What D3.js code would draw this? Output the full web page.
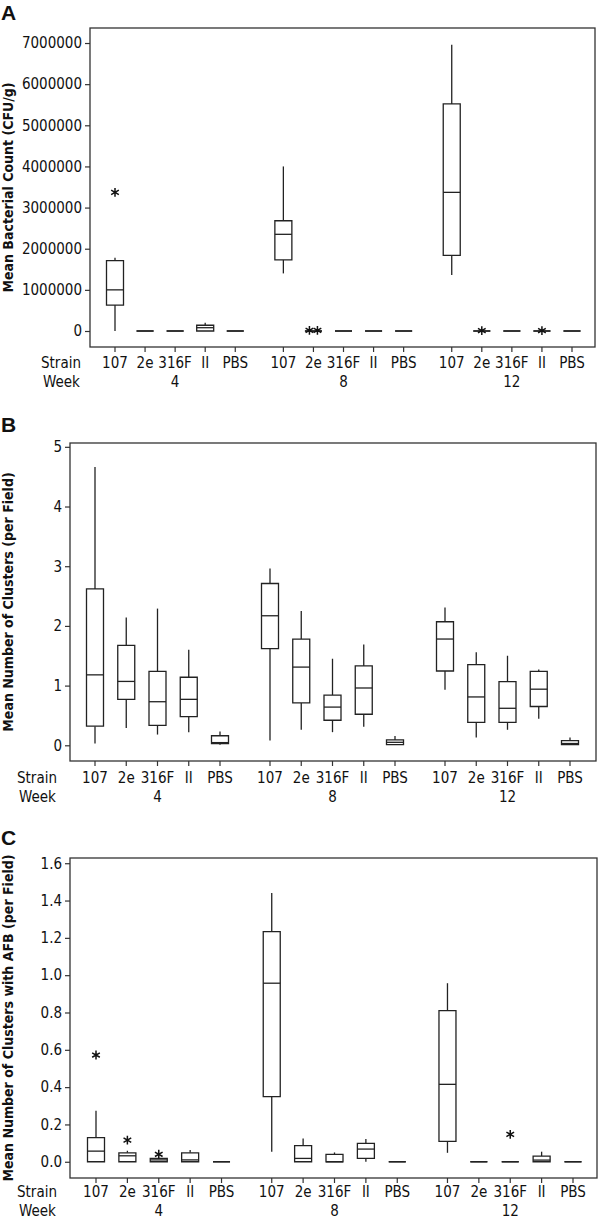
<!DOCTYPE html>
<html>
<head>
<meta charset="utf-8">
<script src="https://cdn.jsdelivr.net/npm/d3@7"></script>
<style>
  body { margin: 0; background: #fff; }
  svg { display: block; }
  text { font-family: "DejaVu Sans Condensed", "DejaVu Sans", sans-serif; font-stretch: condensed; fill: #111; }
  .letter { font-family: "Liberation Sans", Arial, sans-serif; font-weight: bold; font-stretch: normal; }
  .ytitle { font-weight: bold; }
</style>
</head>
<body>
<svg id="chart" width="600" height="1220"></svg>
<script>
const strains = ["107", "2e", "316F", "II", "PBS"];
const weeks = ["4", "8", "12"];

// each row: [whisker low, Q1, median, Q3, whisker high], week 4 strains, then week 8, then week 12
const countStats = [
  [0, 630000, 1000000, 1710000, 1780000],
  [0, 0, 0, 0, 0],
  [0, 0, 0, 0, 0],
  [0, 0, 80000, 140000, 200000],
  [0, 0, 0, 0, 0],
  [1400000, 1730000, 2350000, 2680000, 4000000],
  [0, 0, 0, 0, 0],
  [0, 0, 0, 0, 0],
  [0, 0, 0, 0, 0],
  [0, 0, 0, 0, 0],
  [1360000, 1840000, 3370000, 5520000, 6960000],
  [0, 0, 0, 0, 0],
  [0, 0, 0, 0, 0],
  [0, 0, 0, 0, 0],
  [0, 0, 0, 0, 0]
];
const countOutliers = [[3370000], [], [], [], [], [], [15000, 15000], [], [], [], [], [10000], [], [10000], []];

const clusterStats = [
  [0.03, 0.32, 1.18, 2.62, 4.66],
  [0.29, 0.77, 1.07, 1.675, 2.14],
  [0.18, 0.335, 0.73, 1.24, 2.29],
  [0.22, 0.48, 0.77, 1.14, 1.60],
  [0.01, 0.03, 0.045, 0.16, 0.23],
  [0.08, 1.62, 2.17, 2.71, 2.96],
  [0.26, 0.71, 1.31, 1.78, 2.25],
  [0.22, 0.42, 0.64, 0.84, 1.45],
  [0.31, 0.52, 0.96, 1.33, 1.69],
  [0.01, 0.01, 0.05, 0.09, 0.155],
  [0.93, 1.245, 1.78, 2.07, 2.31],
  [0.13, 0.385, 0.81, 1.35, 1.56],
  [0.26, 0.385, 0.62, 1.065, 1.50],
  [0.445, 0.65, 0.94, 1.24, 1.27],
  [0.01, 0.01, 0.03, 0.077, 0.13]
];
const clusterOutliers = [[], [], [], [], [], [], [], [], [], [], [], [], [], [], []];

const afbStats = [
  [0, 0, 0.057, 0.129, 0.273],
  [0, 0, 0.032, 0.048, 0.059],
  [0, 0, 0.01, 0.018, 0.018],
  [0, 0, 0.01, 0.048, 0.063],
  [0, 0, 0, 0, 0],
  [0.054, 0.349, 0.957, 1.233, 1.44],
  [0, 0, 0.018, 0.086, 0.125],
  [0, 0, 0, 0.04, 0.05],
  [0, 0.018, 0.068, 0.099, 0.122],
  [0, 0, 0, 0, 0],
  [0.048, 0.109, 0.415, 0.81, 0.957],
  [0, 0, 0, 0, 0],
  [0, 0, 0, 0, 0],
  [0, 0, 0.009, 0.03, 0.054],
  [0, 0, 0, 0, 0]
];
const afbOutliers = [[0.572], [0.116], [0.04], [], [], [], [], [], [], [], [], [], [0.147], [], []];

const countTicks = [0, 1000000, 2000000, 3000000, 4000000, 5000000, 6000000, 7000000];
const clusterTicks = [0, 1, 2, 3, 4, 5];
const afbTicks = [0, 0.2, 0.4, 0.6, 0.8, 1.0, 1.2, 1.4, 1.6];

const svg = d3.select("#chart");
const groupStep = 5.6; // slots from one week group to the next

function drawPanel(p) {
  let g = svg.append("g");

  let x = d3.scaleLinear().domain([0, 2 * groupStep + 4]).range([p.first, p.last]);
  let y = d3.scaleLinear().domain(p.yDomain).range([p.bottom, p.top]);
  let bw = 17;

  let items = [];
  weeks.forEach((w, wi) => {
    strains.forEach((s, si) => {
      let k = wi * 5 + si;
      items.push({ strain: s, week: w, pos: wi * groupStep + si, stats: p.stats[k], out: p.outliers[k] });
    });
  });

  // frame
  g.append("rect")
    .attr("x", p.left).attr("y", p.top)
    .attr("width", p.right - p.left).attr("height", p.bottom - p.top)
    .attr("fill", "none").attr("stroke", "#333").attr("stroke-width", 1.3);

  // y axis
  let yAxis = g.append("g")
    .attr("transform", `translate(${p.left},0)`)
    .call(d3.axisLeft(y).tickValues(p.ticks).tickFormat(p.fmt).tickSize(5).tickPadding(3));
  yAxis.select(".domain").remove();
  yAxis.selectAll("line").attr("stroke", "#333").attr("stroke-width", 1.2);
  yAxis.selectAll("text").attr("font-family", null).attr("font-size", 15).style("fill", "#111");

  // x ticks
  g.selectAll(".xtick").data(items).enter().append("line")
    .attr("x1", d => x(d.pos)).attr("x2", d => x(d.pos))
    .attr("y1", p.bottom).attr("y2", p.bottom + 5)
    .attr("stroke", "#333").attr("stroke-width", 1.2);

  g.selectAll(".strain").data(items).enter().append("text")
    .attr("x", d => x(d.pos)).attr("y", p.rowY)
    .attr("text-anchor", "middle").attr("font-size", 15)
    .text(d => d.strain);

  g.selectAll(".week").data(weeks).enter().append("text")
    .attr("x", (d, i) => x(i * groupStep + 2)).attr("y", p.rowY + 19)
    .attr("text-anchor", "middle").attr("font-size", 15)
    .text(d => d);

  g.append("text").attr("x", p.labelX).attr("y", p.rowY).attr("font-size", 15).text("Strain");
  g.append("text").attr("x", p.labelX + 2).attr("y", p.rowY + 19).attr("font-size", 15).text("Week");

  // boxes
  let box = g.selectAll(".box").data(items).enter().append("g");
  box.append("line")
    .attr("x1", d => x(d.pos)).attr("x2", d => x(d.pos))
    .attr("y1", d => y(d.stats[0])).attr("y2", d => y(d.stats[1]))
    .attr("stroke", "#222").attr("stroke-width", 1.3);
  box.append("line")
    .attr("x1", d => x(d.pos)).attr("x2", d => x(d.pos))
    .attr("y1", d => y(d.stats[3])).attr("y2", d => y(d.stats[4]))
    .attr("stroke", "#222").attr("stroke-width", 1.3);
  box.append("path")
    .attr("d", d => {
      let x0 = x(d.pos) - bw / 2, x1 = x(d.pos) + bw / 2;
      return `M${x0},${y(d.stats[1])}H${x1}V${y(d.stats[3])}H${x0}Z`;
    })
    .attr("fill", "#fff").attr("stroke", "#222").attr("stroke-width", 1.3);
  box.append("line")
    .attr("x1", d => x(d.pos) - bw / 2).attr("x2", d => x(d.pos) + bw / 2)
    .attr("y1", d => y(d.stats[2])).attr("y2", d => y(d.stats[2]))
    .attr("stroke", "#222").attr("stroke-width", 1.3);

  // outliers, repeated values sit side by side
  let star = d3.symbol().type(d3.symbolAsterisk).size(55);
  let outs = [];
  items.forEach(d => {
    d.out.forEach((v, j) => {
      let off = (j - (d.out.length - 1) / 2) * 8;
      outs.push({ cx: x(d.pos) + off, cy: y(v) });
    });
  });
  g.selectAll(".star").data(outs).enter().append("path")
    .attr("d", star)
    .attr("transform", d => `translate(${d.cx},${d.cy})`)
    .attr("fill", "none").attr("stroke", "#111").attr("stroke-width", 1.5);

  // y title
  g.append("text")
    .attr("class", "ytitle")
    .attr("transform", `translate(13,${(p.top + p.bottom) / 2}) rotate(-90)`)
    .attr("text-anchor", "middle").attr("font-size", 14)
    .text(p.title);

  g.append("text").attr("class", "letter")
    .attr("x", 1).attr("y", p.letterY).attr("font-size", 21)
    .text(p.letter);
}

drawPanel({
  letter: "A", letterY: 20,
  title: "Mean Bacterial Count (CFU/g)",
  stats: countStats, outliers: countOutliers, ticks: countTicks, fmt: d3.format("d"),
  yDomain: [-389000, 7365000],
  left: 90, right: 595, top: 28, bottom: 347,
  first: 115, last: 572,
  rowY: 368, labelX: 41
});

drawPanel({
  letter: "B", letterY: 432,
  title: "Mean Number of Clusters (per Field)",
  stats: clusterStats, outliers: clusterOutliers, ticks: clusterTicks, fmt: d3.format("d"),
  yDomain: [-0.263, 5.064],
  left: 70, right: 596, top: 443, bottom: 761,
  first: 95, last: 570,
  rowY: 783, labelX: 17
});

drawPanel({
  letter: "C", letterY: 845,
  title: "Mean Number of Clusters with AFB (per Field)",
  stats: afbStats, outliers: afbOutliers, ticks: afbTicks, fmt: d3.format(".1f"),
  yDomain: [-0.087, 1.628],
  left: 70, right: 597, top: 858, bottom: 1178,
  first: 96, last: 573,
  rowY: 1197, labelX: 17
});
</script>
</body>
</html>
